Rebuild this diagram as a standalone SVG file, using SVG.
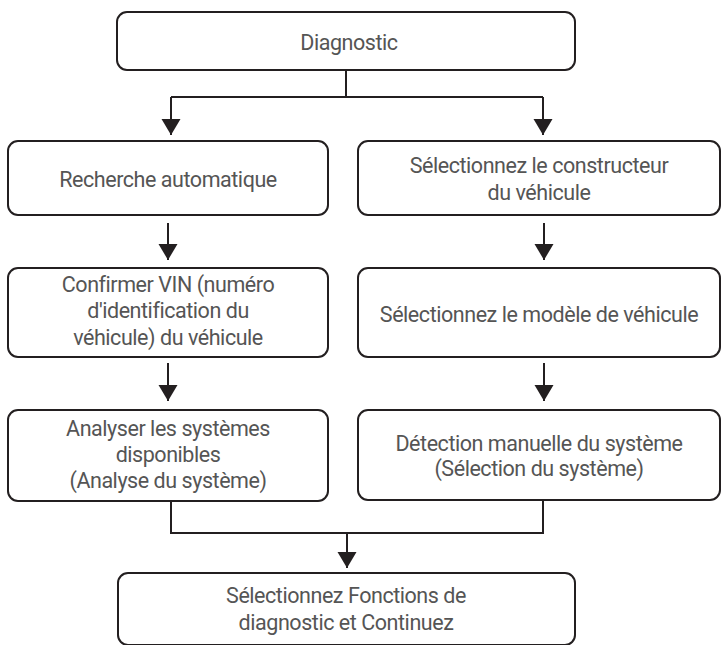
<svg xmlns="http://www.w3.org/2000/svg" width="721" height="645" viewBox="0 0 721 645">
<defs>
<style>
.box{fill:#fff;stroke:#231f20;stroke-width:2}
.t{font-family:Roboto,"Liberation Sans",sans-serif;font-size:21.5px;letter-spacing:-0.45px;fill:#555;text-anchor:middle}
.c{fill:none;stroke:#231f20;stroke-width:2}
</style>
<marker id="ah" markerUnits="userSpaceOnUse" markerWidth="17" markerHeight="20" refX="16" refY="9.5" orient="auto" viewBox="0 0 17 20">
<path d="M0,0 L16,9.5 L0,19 Z" fill="#231f20"/>
</marker>
</defs>
<rect width="721" height="645" fill="#fff"/>
<g id="connectors">
<path class="c" d="M346,70 V97"/>
<path class="c" d="M171,97 H543"/>
<path class="c" d="M171,97 V135" marker-end="url(#ah)"/>
<path class="c" d="M543,97 V135" marker-end="url(#ah)"/>
<path class="c" d="M168,223 V260" marker-end="url(#ah)"/>
<path class="c" d="M544,223 V260" marker-end="url(#ah)"/>
<path class="c" d="M168,363 V401" marker-end="url(#ah)"/>
<path class="c" d="M544,363 V401" marker-end="url(#ah)"/>
<path class="c" d="M171,501 V533 H543 V500"/>
<path class="c" d="M347,533 V568" marker-end="url(#ah)"/>
</g>
<g id="n-diagnostic">
<rect class="box" x="117" y="12" width="458" height="58" rx="10"/>
<text class="t" x="349" y="50">Diagnostic</text>
</g>
<g id="n-recherche">
<rect class="box" x="8" y="141" width="320" height="74" rx="10"/>
<text class="t" x="168" y="187">Recherche automatique</text>
</g>
<g id="n-constructeur">
<rect class="box" x="358" y="141" width="362" height="74" rx="10"/>
<text class="t" x="539" y="173">Sélectionnez le constructeur</text>
<text class="t" x="539" y="200">du véhicule</text>
</g>
<g id="n-vin">
<rect class="box" x="8" y="268" width="320" height="89" rx="10"/>
<text class="t" x="168" y="292">Confirmer VIN (numéro</text>
<text class="t" x="168" y="318">d'identification du</text>
<text class="t" x="168" y="345">véhicule) du véhicule</text>
</g>
<g id="n-modele">
<rect class="box" x="358" y="268" width="362" height="89" rx="10"/>
<text class="t" x="539" y="322">Sélectionnez le modèle de véhicule</text>
</g>
<g id="n-analyser">
<rect class="box" x="8" y="410" width="320" height="91" rx="10"/>
<text class="t" x="168" y="436">Analyser les systèmes</text>
<text class="t" x="168" y="462">disponibles</text>
<text class="t" x="168" y="488">(Analyse du système)</text>
</g>
<g id="n-detection">
<rect class="box" x="358" y="410" width="362" height="90" rx="10"/>
<text class="t" x="539" y="451">Détection manuelle du système</text>
<text class="t" x="539" y="476">(Sélection du système)</text>
</g>
<g id="n-fonctions">
<rect class="box" x="118" y="573" width="457" height="72" rx="10"/>
<text class="t" x="346" y="603">Sélectionnez Fonctions de</text>
<text class="t" x="346" y="630">diagnostic et Continuez</text>
</g>
</svg>
